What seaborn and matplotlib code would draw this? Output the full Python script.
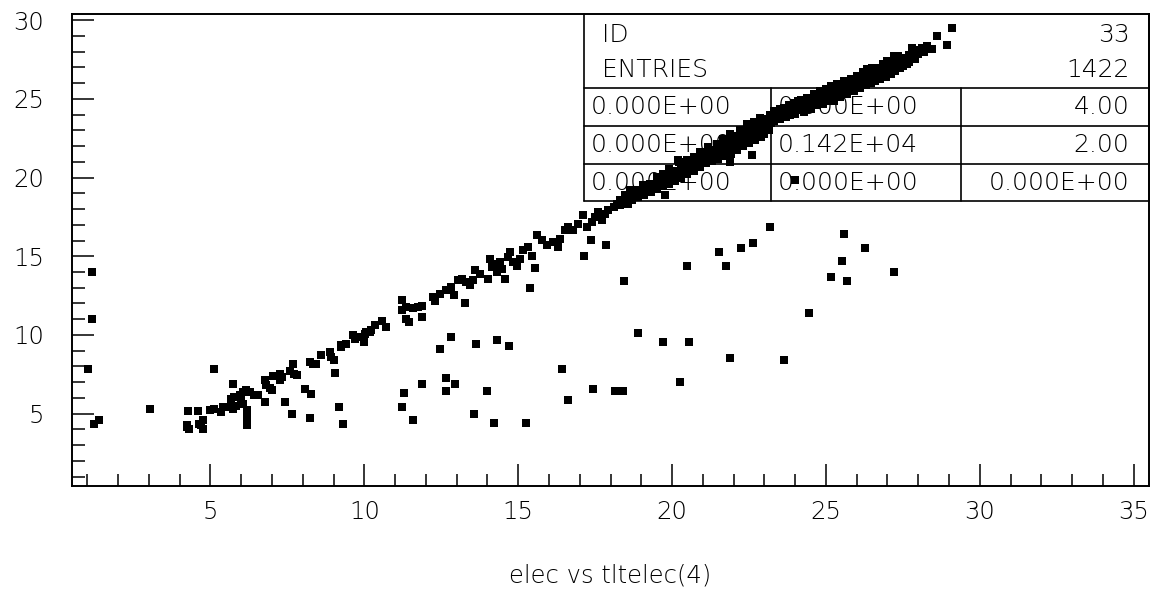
import matplotlib
matplotlib.use("Agg")
import matplotlib.pyplot as plt
import seaborn as sns
import pandas as pd
from matplotlib.ticker import MultipleLocator

# ---------------- data ----------------
# isolated points at small x
x_left = [1.15, 1.15, 1.01, 1.23, 1.37, 3.05, 4.26, 4.59, 4.23, 4.30, 4.75, 4.77, 4.64, 4.25, 4.70]
y_left = [14.0, 11.0, 7.86, 4.32, 4.62, 5.29, 5.16, 5.16, 4.15, 4.04, 4.57, 4.04, 4.36, 4.30, 4.25]

# main band, 5 < x < 11
x_band1 = [4.97, 5.10, 5.35, 5.40, 5.62, 5.73, 5.84, 5.68, 5.78, 5.95, 6.05, 6.16, 6.00, 6.05,
           6.29, 6.43, 6.54, 6.76, 6.81, 6.92, 7.01, 7.03, 7.25, 7.33, 7.25, 7.57, 7.68, 7.73,
           7.81, 8.22, 8.33, 8.44, 8.60, 8.90, 8.93, 9.00, 9.25, 9.42, 9.25, 9.63, 9.69, 9.85,
           9.98, 10.07, 10.23, 10.34, 10.56, 10.72, 10.18, 10.01]
y_band1 = [5.21, 5.31, 5.10, 5.42, 5.42, 5.31, 5.46, 5.95, 6.05, 6.16, 6.37, 6.48, 5.84, 5.63,
           6.37, 6.16, 6.16, 7.11, 6.80, 6.65, 6.52, 7.37, 7.54, 7.32, 7.11, 7.70, 8.17, 7.54,
           7.43, 8.28, 8.17, 8.17, 8.70, 8.91, 8.60, 8.39, 9.34, 9.45, 9.23, 9.97, 9.76, 9.87,
           9.55, 10.18, 10.29, 10.61, 10.88, 10.50, 10.18, 10.08]

# main band, 11 < x < 18.6
x_band2 = [11.21, 11.21, 11.37, 11.58, 11.75, 11.88, 11.35, 11.45, 11.88, 12.24, 12.29, 12.45,
           12.67, 12.83, 12.91, 13.05, 13.16, 13.32, 13.43, 13.54, 13.59, 13.76, 14.03, 14.08,
           14.14, 14.24, 14.30, 14.41, 14.46, 14.57, 14.68, 14.73, 14.84, 14.95, 15.06, 15.16,
           15.33, 15.44, 15.60, 15.76, 15.93, 16.14, 16.30, 16.36, 16.52, 16.63, 16.79, 16.95,
           17.12, 17.23, 17.39, 17.50, 17.61, 17.72, 17.82, 17.93, 18.10, 18.20, 18.42, 18.58]
y_band2 = [12.20, 11.61, 11.77, 11.74, 11.77, 11.82, 11.04, 10.82, 11.14, 12.41, 12.15, 12.63,
           12.84, 13.05, 12.52, 13.47, 13.58, 13.36, 13.15, 13.47, 14.11, 13.90, 13.58, 14.85,
           14.32, 14.53, 14.00, 14.64, 14.21, 13.58, 14.95, 15.27, 14.64, 14.36, 14.85, 15.38,
           15.59, 15.00, 16.33, 16.01, 15.70, 15.91, 15.59, 16.12, 16.65, 16.86, 16.65, 17.07,
           17.60, 16.86, 17.18, 17.50, 17.81, 17.29, 17.71, 17.92, 18.13, 18.30, 18.56, 18.35]

# dense band, 18.3 < x < 23.3
x_band3 = [18.31, 18.47, 18.64, 18.85, 19.07, 19.29, 19.51, 19.72, 19.89, 20.21, 20.48, 20.70,
           20.91, 21.18, 21.46, 21.67, 21.89, 22.22, 22.43, 22.65, 22.92, 23.19,
           20.26, 22.00, 22.22, 21.35, 20.59, 19.83, 19.18, 19.78, 20.20, 21.78,
           18.31, 18.50, 18.70, 18.90, 19.10, 19.30, 19.50, 19.70, 19.90, 20.10, 20.30, 20.50,
           20.70, 20.90, 21.10, 21.30, 21.50, 21.70, 21.90, 22.10, 22.30, 22.50, 22.70, 22.90,
           23.00, 23.15,
           18.40, 18.60, 18.80, 19.00, 19.20, 19.40, 19.60, 19.80, 20.00, 20.20, 20.40, 20.60,
           20.80, 21.00, 21.20, 21.40, 21.60, 21.80, 22.00, 22.20, 22.40, 22.60, 22.80, 23.00,
           23.20, 22.43, 22.87,
           18.50, 18.70, 18.90, 19.10, 19.30, 19.50, 19.70, 19.90, 20.10, 20.30, 20.50, 20.70,
           20.90, 21.10, 21.30, 21.50, 21.70, 21.90, 22.10, 22.30, 22.50, 22.70, 22.90, 23.10,
           18.50, 18.70, 18.90, 19.10, 19.30, 19.50, 19.70, 19.90, 20.10, 20.30, 20.50, 20.70,
           20.90, 21.10, 21.30, 21.50, 21.70, 21.90, 22.10, 22.30, 22.50, 22.70, 22.90, 23.10]
y_band3 = [18.56, 18.88, 19.19, 19.19, 19.51, 19.62, 20.04, 20.25, 20.57, 20.99, 21.10, 21.31,
           21.63, 21.95, 22.16, 22.48, 22.80, 23.01, 23.32, 23.53, 23.75, 23.96,
           20.36, 22.37, 22.26, 21.63, 20.67, 19.83, 19.19, 18.88, 21.10, 21.63,
           18.24, 18.35, 18.60, 18.75, 18.90, 19.10, 19.30, 19.45, 19.60, 19.80, 20.00, 20.20,
           20.40, 20.65, 20.90, 21.05, 21.20, 21.35, 21.50, 21.75, 22.00, 22.20, 22.40, 22.60,
           22.80, 23.00,
           18.55, 18.75, 18.95, 19.15, 19.35, 19.55, 19.75, 19.95, 20.15, 20.40, 20.60, 20.80,
           21.00, 21.20, 21.45, 21.65, 21.85, 22.05, 22.30, 22.50, 22.70, 22.90, 23.10, 23.30,
           23.50, 23.39, 23.81,
           18.80, 19.00, 19.20, 19.40, 19.55, 19.80, 20.00, 20.25, 20.45, 20.70, 20.85, 21.05,
           21.30, 21.55, 21.75, 21.95, 22.15, 22.45, 22.65, 22.90, 23.10, 23.30, 23.50, 23.70,
           18.45, 18.65, 18.85, 19.05, 19.25, 19.45, 19.60, 19.80, 20.00, 20.20, 20.40, 20.60,
           20.85, 21.05, 21.25, 21.40, 21.60, 21.80, 22.00, 22.25, 22.45, 22.65, 22.85, 23.05]

# dense band, 23.3 < x < 29.2
x_band4 = [23.30, 23.50, 23.63, 23.80, 23.95, 24.10, 24.20, 24.39, 24.60, 24.82, 25.00, 25.15,
           25.35, 25.58, 25.80, 26.01, 26.20, 26.34, 26.50, 26.66, 26.85, 26.99, 27.20, 27.35,
           27.53, 27.80, 27.95, 28.13, 28.29, 28.62, 29.11,
           23.30, 23.52, 23.70, 23.84, 24.00, 24.28, 24.50, 24.71, 24.90, 25.10, 25.25, 25.47,
           25.69, 25.90, 26.12, 26.30, 26.45, 26.60, 26.77, 26.95, 27.10, 27.25, 27.42, 27.64,
           27.91, 28.45, 28.94,
           23.40, 23.60, 23.80, 24.00, 24.20, 24.40, 24.60, 24.82, 25.00, 25.20, 25.40, 25.60,
           25.80, 26.00, 26.20, 26.40, 26.55, 26.70, 26.88, 27.05, 27.20, 27.31, 27.50, 27.70,
           28.00, 28.20,
           23.50, 23.70, 23.90, 24.10, 24.30, 24.50, 24.70, 24.90, 25.10, 25.30, 25.50, 25.70,
           25.90, 26.10, 26.30, 26.50, 26.70, 26.90, 27.10, 27.30, 27.50, 27.70, 27.90,
           23.50, 23.70, 23.90, 24.10, 24.30, 24.50, 24.70, 24.90, 25.10, 25.30, 25.50, 25.70,
           25.90, 26.10, 26.30, 26.50, 26.70, 26.90, 27.10, 27.30, 27.50, 27.70]
y_band4 = [24.23, 24.35, 24.45, 24.60, 24.77, 24.90, 24.95, 25.09, 25.30, 25.51, 25.65, 25.82,
           25.95, 26.14, 26.30, 26.46, 26.70, 26.88, 26.95, 26.99, 27.20, 27.41, 27.73, 27.70,
           27.63, 28.26, 28.10, 28.26, 28.37, 29.00, 29.53,
           23.60, 23.70, 23.85, 24.00, 24.02, 24.20, 24.35, 24.60, 24.70, 24.85, 24.87, 25.10,
           25.30, 25.50, 25.72, 25.90, 26.04, 26.15, 26.25, 26.40, 26.57, 26.75, 26.99, 27.20,
           27.52, 28.16, 28.43,
           23.95, 24.10, 24.30, 24.45, 24.60, 24.70, 24.90, 25.05, 25.25, 25.40, 25.55, 25.70,
           25.93, 26.10, 26.30, 26.50, 26.57, 26.60, 26.78, 26.95, 27.10, 27.31, 27.30, 27.60,
           27.85, 28.00,
           24.20, 24.35, 24.55, 24.70, 24.85, 25.00, 25.20, 25.40, 25.55, 25.70, 25.90, 26.05,
           26.20, 26.40, 26.65, 26.75, 26.85, 27.05, 27.30, 27.50, 27.50, 27.80, 27.95,
           23.80, 24.00, 24.20, 24.30, 24.45, 24.55, 24.75, 24.90, 25.10, 25.20, 25.35, 25.55,
           25.75, 25.95, 26.15, 26.30, 26.40, 26.60, 26.80, 27.00, 27.10, 27.35]

# points lying below the band
x_below = [5.10, 5.73, 6.19, 6.19, 6.19, 6.19, 6.76, 7.41, 7.65, 8.06, 8.28, 8.22, 9.04, 9.18,
           9.31, 12.45, 12.83, 13.63, 14.30, 14.71, 11.29, 11.23, 11.58, 11.88, 12.67, 12.96,
           12.67, 13.99, 13.55, 14.21, 15.24, 16.41, 16.63, 17.42, 18.15, 18.40, 18.89, 19.69,
           20.56, 20.26, 21.87, 23.63, 24.44, 20.50, 21.52, 21.74, 22.25, 22.62, 23.19, 25.60,
           26.26, 25.53, 25.17, 25.68, 27.22, 13.27, 15.38, 15.54, 17.13, 17.36, 17.86, 18.45,
           21.89, 22.60, 24.00]
y_below = [7.86, 6.86, 5.20, 4.90, 4.55, 4.30, 5.73, 5.73, 5.00, 6.58, 6.27, 4.74, 7.58, 5.42,
           4.32, 9.13, 9.87, 9.42, 9.70, 9.28, 6.31, 5.42, 4.57, 6.86, 7.29, 6.86,
           6.43, 6.43, 5.00, 4.42, 4.42, 7.86, 5.84, 6.58, 6.43, 6.43, 10.15, 9.57,
           9.57, 7.01, 8.56, 8.43, 11.42, 14.40, 15.27, 14.40, 15.55, 15.84, 16.86, 16.41,
           15.55, 14.70, 13.68, 13.43, 14.00, 12.00, 13.00, 14.28, 15.00, 16.01, 15.70, 13.43,
           20.99, 21.42, 19.83]

x_label = "elec vs tltelec(4)"
stats_rows = [["0.000E+00", "0.000E+00", "4.00"],
              ["0.000E+00", "0.142E+04", "2.00"],
              ["0.000E+00", "0.000E+00", "0.000E+00"]]
stats_id = "33"
stats_entries = "1422"

# ---------------- figure ----------------
sns.set_theme(style="white")
plt.rcParams["font.family"] = ["DejaVu Sans"]
plt.rcParams["font.weight"] = "light"
plt.rcParams["axes.labelweight"] = "light"

df = pd.DataFrame({
    "x": x_left + x_band1 + x_band2 + x_band3 + x_band4 + x_below,
    "y": y_left + y_band1 + y_band2 + y_band3 + y_band4 + y_below,
})

fig = plt.figure(figsize=(11.64, 5.94), dpi=100, facecolor="white")
ax = fig.add_axes([72 / 1164, 1 - 486 / 594, 1077 / 1164, 472 / 594])
ax.set_facecolor("white")

sns.scatterplot(data=df, x="x", y="y", marker="s", s=36, color="black",
                linewidth=0, ax=ax, zorder=3, legend=False)

ax.set_xlim(0.5, 35.5)
ax.set_ylim(0.4, 30.4)
ax.xaxis.set_major_locator(MultipleLocator(5))
ax.xaxis.set_minor_locator(MultipleLocator(1))
ax.yaxis.set_major_locator(MultipleLocator(5))
ax.yaxis.set_minor_locator(MultipleLocator(1))
ax.tick_params(axis="both", which="major", direction="in", length=15.5, width=1.1,
               color="black", labelsize=17.5, labelcolor="black")
ax.tick_params(axis="both", which="minor", direction="in", length=9, width=1.1, color="black")
ax.tick_params(axis="x", which="both", bottom=True, top=False, pad=10)
ax.tick_params(axis="y", which="both", left=True, right=False, pad=20)
for sp in ax.spines.values():
    sp.set_visible(True)
    sp.set_color("black")
    sp.set_linewidth(1.4)
ax.grid(False)

ax.set_ylabel("")
ax.set_xlabel(x_label, fontsize=17.5, color="black", fontweight="light")
ax.xaxis.set_label_coords(0.5, -0.165)

# ---------------- statistics box ----------------
L, C1, C2, R = 0.4754, 0.649, 0.8254, 1.0
T, Y1, Y2, Y3, B = 1.0, 0.8432, 0.7627, 0.6822, 0.6038
lw = 1.2
kw = dict(transform=ax.transAxes, color="black", lw=lw, zorder=2, clip_on=False)
ax.plot([L, L], [T, B], **kw)
ax.plot([R, R], [T, B], **kw)
for yy in (Y1, Y2, Y3, B):
    ax.plot([L, R], [yy, yy], **kw)
for xx in (C1, C2):
    ax.plot([xx, xx], [Y1, B], **kw)

tkw = dict(transform=ax.transAxes, fontsize=18, color="black", zorder=2, va="center",
           fontweight="light")
padl = 0.017
padr = 0.018
ax.text(L + padl, (486 - 35) / 472, "ID", ha="left", **tkw)
ax.text(R - padr, (486 - 35) / 472, stats_id, ha="right", **tkw)
ax.text(L + padl, (486 - 70) / 472, "ENTRIES", ha="left", **tkw)
ax.text(R - padr, (486 - 70) / 472, stats_entries, ha="right", **tkw)
row_centers = [(Y1 + Y2) / 2, (Y2 + Y3) / 2, (Y3 + B) / 2]
for row, yc in zip(stats_rows, row_centers):
    ax.text(L + 0.006, yc, row[0], ha="left", **tkw)
    ax.text(C1 + 0.006, yc, row[1], ha="left", **tkw)
    ax.text(R - padr, yc, row[2], ha="right", **tkw)

fig.savefig("out.png", dpi=100, facecolor="white")
